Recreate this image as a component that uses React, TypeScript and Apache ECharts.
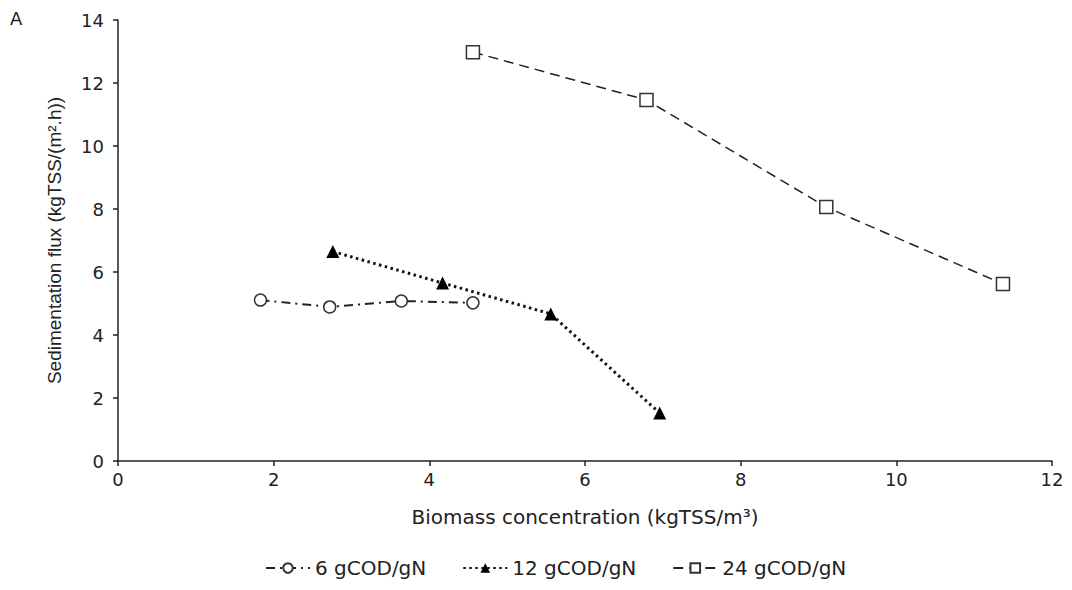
import React, { useEffect, useRef } from "react";
import * as echarts from "echarts";

const seriesNames = ["6 gCOD/gN", "12 gCOD/gN", "24 gCOD/gN"];
const x6 = [1.83, 2.72, 3.64, 4.56];
const y6 = [5.11, 4.89, 5.08, 5.02];
const x12 = [2.76, 4.17, 5.56, 6.96];
const y12 = [6.65, 5.65, 4.67, 1.52];
const x24 = [4.56, 6.79, 9.1, 11.37];
const y24 = [12.98, 11.46, 8.06, 5.62];
const xTitle = "Biomass concentration (kgTSS/m³)";
const yTitle = "Sedimentation flux (kgTSS/(m².h))";
const panelLabel = "A";

const FONT = "'Liberation Sans', Arial, sans-serif";
const WIDE = "'DejaVu Sans', sans-serif";

function pairs(xs: number[], ys: number[]) {
  return xs.map((x, i) => [x, ys[i]]);
}

export default function App() {
  const ref = useRef<HTMLDivElement>(null);
  useEffect(() => {
    if (!ref.current) return;
    const chart = echarts.init(ref.current, null, { renderer: "svg" });
    const tickText = { color: "#222", fontSize: 18, fontFamily: WIDE };
    chart.setOption({
      animation: false,
      backgroundColor: "#fff",
      textStyle: { fontFamily: WIDE },
      graphic: [
        {
          type: "text",
          left: 10,
          top: 9,
          style: { text: panelLabel, fontSize: 18, fontFamily: WIDE, fill: "#222" },
        },
      ],
      grid: { left: 118, right: 20, top: 20, bottom: 129 },
      legend: {
        bottom: 7,
        left: 260,
        itemWidth: 44,
        itemHeight: 12,
        itemGap: 36,
        textStyle: { fontSize: 20, fontFamily: WIDE, color: "#222" },
        data: seriesNames,
      },
      xAxis: {
        type: "value",
        min: 0,
        max: 12,
        interval: 2,
        name: xTitle,
        nameLocation: "middle",
        nameGap: 46,
        nameTextStyle: { color: "#222", fontSize: 20, fontFamily: WIDE },
        axisLine: { show: true, onZero: false, lineStyle: { color: "#222", width: 1.5 } },
        axisTick: { show: true, length: 5, lineStyle: { color: "#222", width: 1.5 } },
        axisLabel: { ...tickText, margin: 9 },
        splitLine: { show: false },
      },
      yAxis: {
        type: "value",
        min: 0,
        max: 14,
        interval: 2,
        name: yTitle,
        nameLocation: "middle",
        nameGap: 54,
        nameTextStyle: { color: "#222", fontSize: 19, fontFamily: FONT },
        axisLine: { show: true, lineStyle: { color: "#222", width: 1.5 } },
        axisTick: { show: true, length: 5, lineStyle: { color: "#222", width: 1.5 } },
        axisLabel: { ...tickText, margin: 14 },
        splitLine: { show: false },
      },
      series: [
        {
          name: seriesNames[0],
          type: "line",
          data: pairs(x6, y6),
          symbol: "circle",
          symbolSize: 12,
          showSymbol: true,
          color: "#222",
          itemStyle: { color: "#fff", borderColor: "#333", borderWidth: 1.5 },
          lineStyle: { color: "#222", width: 2, type: [9, 5, 2, 5] },
          z: 3,
        },
        {
          name: seriesNames[1],
          type: "line",
          data: pairs(x12, y12),
          symbol: "triangle",
          symbolSize: 13,
          color: "#000",
          itemStyle: { color: "#000", borderColor: "#000", borderWidth: 0 },
          lineStyle: { color: "#111", width: 3, type: [2.5, 3.5] },
          z: 4,
        },
        {
          name: seriesNames[2],
          type: "line",
          data: pairs(x24, y24),
          symbol: "rect",
          symbolSize: 13,
          color: "#222",
          itemStyle: { color: "#fff", borderColor: "#333", borderWidth: 1.5 },
          lineStyle: { color: "#222", width: 1.5, type: [10, 6] },
          z: 3,
        },
      ],
    });
    return () => chart.dispose();
  }, []);
  return (
    <div
      ref={ref}
      style={{ position: "fixed", left: 0, top: 0, width: 1072, height: 590, background: "#fff" }}
    />
  );
}
